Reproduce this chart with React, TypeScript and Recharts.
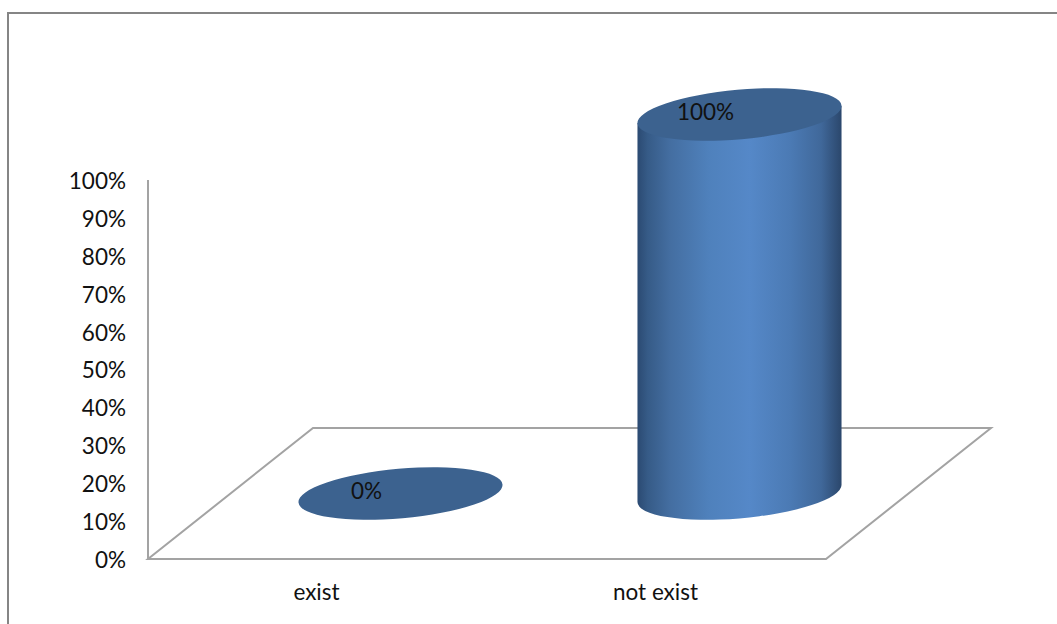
import { BarChart, Bar, XAxis, YAxis, LabelList, Customized } from 'recharts'

const categories = ['exist', 'not exist']
const shares = [0, 100]
const yTicks = [0, 10, 20, 30, 40, 50, 60, 70, 80, 90, 100]

const data = categories.map((name, i) => ({ name, share: shares[i] }))

const WIDTH = 1057
const HEIGHT = 624
const LEFT = 148
const RIGHT = 826
const TOP = 180
const BOTTOM = 559

// depth of the fake 3d floor, the cylinders stand halfway into it
const DEPTH_X = 165
const DEPTH_Y = 131

const RX = 102.4
const RY = 24.8
const TILT = -5.06

const AXIS_COLOR = '#a3a3a3'
const FONT = 'Lato, Carlito, sans-serif'
const FONT_SIZE = 22.5

const tiltRad = (TILT * Math.PI) / 180
const halfW = Math.sqrt(RX * RX * Math.cos(tiltRad) ** 2 + RY * RY * Math.sin(tiltRad) ** 2)
const sideDy = ((RX * RX - RY * RY) * Math.sin(-tiltRad) * Math.cos(tiltRad)) / halfW

function Floor() {
  const pts = [
    [LEFT, BOTTOM],
    [RIGHT, BOTTOM],
    [RIGHT + DEPTH_X, BOTTOM - DEPTH_Y],
    [LEFT + DEPTH_X, BOTTOM - DEPTH_Y],
  ]
  return <polygon points={pts.map(p => p.join(',')).join(' ')} fill="#fff" stroke={AXIS_COLOR} strokeWidth={2} />
}

function Cylinder(props: any) {
  const { x, y, width, height } = props
  const cx = x + width / 2 + DEPTH_X / 2
  const top = y - DEPTH_Y / 2
  const base = y + height - DEPTH_Y / 2
  const body =
    `M ${cx - halfW} ${top + sideDy} L ${cx - halfW} ${base + sideDy} ` +
    `A ${RX} ${RY} ${TILT} 0 0 ${cx + halfW} ${base - sideDy} ` +
    `L ${cx + halfW} ${top - sideDy} Z`
  return (
    <g>
      {height > 0 && <path d={body} fill="url(#cylinderBody)" />}
      <ellipse cx={cx} cy={top} rx={RX} ry={RY} fill="#3c628f" transform={`rotate(${TILT} ${cx} ${top})`} />
    </g>
  )
}

function ShareLabel(props: any) {
  const { x, y, width, value } = props
  return (
    <text
      x={x + width / 2 + DEPTH_X / 2 - 34}
      y={y - DEPTH_Y / 2}
      textAnchor="middle"
      dominantBaseline="middle"
      fontFamily={FONT}
      fontSize={FONT_SIZE}
      fill="#111"
    >
      {`${value}%`}
    </text>
  )
}

export default function App() {
  return (
    <div style={{ position: 'absolute', left: 0, top: 0, width: WIDTH, height: HEIGHT, overflow: 'hidden', background: '#fff' }}>
      <div style={{ position: 'absolute', left: 7, top: 12, width: WIDTH + 20, height: HEIGHT + 20, borderLeft: '2px solid #858585', borderTop: '2px solid #858585' }} />
      <div style={{ position: 'absolute', left: 0, top: 0 }}>
        <BarChart
          width={WIDTH}
          height={HEIGHT}
          data={data}
          margin={{ top: TOP, right: WIDTH - RIGHT, bottom: 0, left: 0 }}
          barSize={204}
        >
          <defs>
            <linearGradient id="cylinderBody" x1="0" y1="0" x2="1" y2="0">
              <stop offset="0" stopColor="#2b4a72" />
              <stop offset="0.05" stopColor="#365b87" />
              <stop offset="0.16" stopColor="#446ea1" />
              <stop offset="0.35" stopColor="#4f81bc" />
              <stop offset="0.55" stopColor="#5588c8" />
              <stop offset="0.75" stopColor="#4b7ab4" />
              <stop offset="0.9" stopColor="#40689a" />
              <stop offset="1" stopColor="#2b476c" />
            </linearGradient>
          </defs>
          <Customized component={Floor} />
          <XAxis
            dataKey="name"
            height={HEIGHT - BOTTOM}
            axisLine={false}
            tickLine={false}
            tickMargin={19}
            tick={{ fill: '#111', fontSize: FONT_SIZE, fontFamily: FONT, dx: -1 }}
          />
          <YAxis
            width={LEFT}
            domain={[0, 100]}
            ticks={yTicks}
            interval={0}
            tickFormatter={(v) => `${v}%`}
            axisLine={{ stroke: AXIS_COLOR, strokeWidth: 2 }}
            tickLine={false}
            tickMargin={16}
            tick={{ fill: '#111', fontSize: FONT_SIZE, fontFamily: FONT, dy: 1 }}
          />
          <Bar dataKey="share" shape={Cylinder} isAnimationActive={false}>
            <LabelList dataKey="share" content={ShareLabel} />
          </Bar>
        </BarChart>
      </div>
    </div>
  )
}
